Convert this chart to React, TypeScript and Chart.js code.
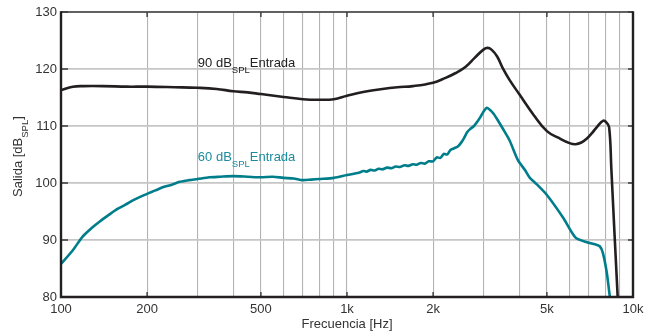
import React, { useEffect, useRef } from "react";
import { Chart, registerables } from "chart.js";

Chart.register(...registerables);

// ---- data ----
const freq90 = [100, 110, 120, 140, 170, 200, 250, 300, 350, 400, 450, 500, 600, 700, 800, 900, 1000, 1150, 1330, 1500, 1700, 2000, 2200, 2400, 2600, 2800, 3000, 3100, 3200, 3350, 3500, 3700, 4000, 4500, 5000, 5500, 6000, 6300, 6600, 6900, 7200, 7500, 7850, 8050, 8250, 8400, 8850, 9000];
const level90 = [116.3, 116.9, 117.0, 117.0, 116.9, 116.9, 116.8, 116.7, 116.5, 116.1, 115.9, 115.6, 115.1, 114.7, 114.6, 114.7, 115.3, 116.0, 116.5, 116.8, 117.0, 117.6, 118.4, 119.3, 120.4, 122.0, 123.4, 123.7, 123.4, 122.2, 120.2, 118.1, 115.6, 111.9, 109.1, 107.9, 107.0, 106.8, 107.1, 107.8, 108.8, 109.9, 110.9, 110.7, 109.8, 102.5, 79.5, 74];

const freq60 = [100, 110, 119, 128, 137, 147, 157, 168, 179, 190, 200, 214, 228, 244, 260, 280, 300, 330, 360, 400, 450, 500, 550, 600, 650, 700, 750, 800, 900, 1000, 1100, 1140, 1170, 1210, 1250, 1290, 1330, 1380, 1430, 1480, 1530, 1590, 1640, 1700, 1750, 1810, 1870, 1930, 2000, 2060, 2120, 2180, 2240, 2300, 2370, 2440, 2500, 2560, 2630, 2700, 2780, 2850, 2930, 3000, 3080, 3150, 3250, 3330, 3500, 3700, 3960, 4200, 4360, 4600, 5000, 5700, 6300, 6900, 7300, 7650, 7850, 8100, 8300, 8400];
const level60 = [85.8, 88.2, 90.6, 92.1, 93.3, 94.4, 95.4, 96.2, 97.0, 97.6, 98.1, 98.7, 99.3, 99.7, 100.2, 100.5, 100.7, 101.0, 101.1, 101.2, 101.1, 101.0, 101.1, 100.9, 100.8, 100.5, 100.6, 100.7, 100.9, 101.4, 101.8, 102.1, 102.0, 102.3, 102.2, 102.5, 102.4, 102.7, 102.6, 102.9, 102.8, 103.1, 103.0, 103.3, 103.2, 103.5, 103.4, 103.8, 103.8, 104.5, 104.4, 105.1, 105.0, 105.8, 106.1, 106.4, 107.0, 107.8, 108.9, 109.5, 110.0, 110.7, 111.6, 112.5, 113.2, 112.9, 112.2, 111.4, 109.6, 107.5, 104.0, 102.2, 100.9, 99.8, 97.9, 93.9, 90.4, 89.6, 89.3, 88.9, 87.7, 84.2, 80.0, 78.0];

const xTickValues = [100, 200, 300, 400, 500, 600, 700, 800, 900, 1000, 2000, 3000, 4000, 5000, 6000, 7000, 8000, 9000, 10000];
const xMajorValues = [100, 200, 500, 1000, 2000, 5000, 10000];
const xMajorLabels = ["100", "200", "500", "1k", "2k", "5k", "10k"];
const yTickValues = [80, 90, 100, 110, 120, 130];

const label90 = { x: 301, y: 120.35, parts: ["90 dB", "SPL", "Entrada"] };
const label60 = { x: 301, y: 103.9, parts: ["60 dB", "SPL", "Entrada"] };

const FONT = '"Liberation Sans", Arial, Helvetica, sans-serif';
const BLACK = "#231f20";
const TEAL = "#007d8b";
const TEAL_TEXT = "#1a8c9e";

function drawSubText(ctx: CanvasRenderingContext2D, x: number, y: number, parts: string[], color: string) {
  ctx.save();
  ctx.fillStyle = color;
  ctx.textBaseline = "alphabetic";
  ctx.textAlign = "left";
  let cx = x;
  parts.forEach((p, i) => {
    const sub = i % 2 === 1;
    ctx.font = (sub ? "9.5px " : "13px ") + FONT;
    ctx.fillText(p, cx, y + (sub ? 6 : 0));
    cx += ctx.measureText(p).width;
  });
  ctx.restore();
}

const framePlugin = {
  id: "framePlugin",
  afterDatasetsDraw(chart: any) {
    const ctx: CanvasRenderingContext2D = chart.ctx;
    const { left, right, top, bottom } = chart.chartArea;
    const xs = chart.scales.x;
    const ys = chart.scales.y;
    ctx.save();
    // inward ticks
    ctx.strokeStyle = "#3a3a3a";
    ctx.lineWidth = 1.4;
    const tl = 5;
    xMajorValues.forEach((v) => {
      const px = xs.getPixelForValue(v);
      ctx.beginPath();
      ctx.moveTo(px, bottom);
      ctx.lineTo(px, bottom - tl);
      ctx.moveTo(px, top);
      ctx.lineTo(px, top + tl);
      ctx.stroke();
    });
    yTickValues.forEach((v) => {
      const py = ys.getPixelForValue(v);
      ctx.beginPath();
      ctx.moveTo(left, py);
      ctx.lineTo(left + 7, py);
      ctx.moveTo(right, py);
      ctx.lineTo(right - tl, py);
      ctx.stroke();
    });
    // frame
    ctx.strokeStyle = "#3c3c3c";
    ctx.lineWidth = 1.4;
    ctx.beginPath();
    ctx.moveTo(left, top);
    ctx.lineTo(right, top);
    ctx.stroke();
    ctx.strokeStyle = BLACK;
    ctx.lineWidth = 2.4;
    ctx.beginPath();
    ctx.moveTo(left, top - 0.7);
    ctx.lineTo(left, bottom);
    ctx.lineTo(right, bottom);
    ctx.lineTo(right, top - 0.7);
    ctx.stroke();

    // annotations
    drawSubText(ctx, xs.getPixelForValue(label90.x), ys.getPixelForValue(label90.y), label90.parts, "#222");
    drawSubText(ctx, xs.getPixelForValue(label60.x), ys.getPixelForValue(label60.y), label60.parts, TEAL_TEXT);

    // y-axis title with subscript
    ctx.translate(22, 197);
    ctx.rotate(-Math.PI / 2);
    drawSubText(ctx, 0, 0, ["Salida [dB", "SPL", "]"], "#333");
    ctx.restore();
  },
};

export default function App() {
  const ref = useRef<HTMLCanvasElement>(null);
  useEffect(() => {
    if (!ref.current) return;
    Chart.defaults.font.family = FONT;
    const chart = new Chart(ref.current, {
      type: "line",
      data: {
        datasets: [
          {
            label: "90 dB SPL Entrada",
            data: freq90.map((f, i) => ({ x: f, y: level90[i] })),
            borderColor: BLACK,
            borderWidth: 2.6,
            pointRadius: 0,
            tension: 0.4,
            fill: false,
          },
          {
            label: "60 dB SPL Entrada",
            data: freq60.map((f, i) => ({ x: f, y: level60[i] })),
            borderColor: TEAL,
            borderWidth: 2.6,
            pointRadius: 0,
            tension: 0.25,
            fill: false,
          },
        ],
      },
      options: {
        animation: false,
        responsive: false,
        devicePixelRatio: 1,
        layout: { padding: { left: 0, right: 23, top: 12, bottom: 0 } },
        plugins: { legend: { display: false }, tooltip: { enabled: false } },
        scales: {
          x: {
            type: "logarithmic",
            min: 100,
            max: 10000,
            afterBuildTicks: (scale: any) => {
              scale.ticks = xTickValues.map((v) => ({ value: v }));
            },
            afterFit: (scale: any) => {
              scale.height = 39;
            },
            ticks: {
              autoSkip: false,
              maxRotation: 0,
              padding: 5,
              color: "#333",
              font: { size: 13, family: FONT },
              callback: (value: any) => {
                const idx = xMajorValues.indexOf(Number(value));
                return idx >= 0 ? xMajorLabels[idx] : "";
              },
            },
            grid: { color: "#b3b3b3", lineWidth: 1.1, drawTicks: false },
            border: { display: false },
            title: {
              display: true,
              text: "Frecuencia [Hz]",
              color: "#333",
              font: { size: 13, family: FONT },
              padding: { top: 0, bottom: 4 },
            },
          },
          y: {
            min: 80,
            max: 130,
            afterBuildTicks: (scale: any) => {
              scale.ticks = yTickValues.map((v) => ({ value: v }));
            },
            afterFit: (scale: any) => {
              scale.width = 61;
            },
            ticks: {
              padding: 4,
              color: "#333",
              font: { size: 13, family: FONT },
            },
            grid: { color: "#c6c6c6", lineWidth: 1.8, drawTicks: false },
            border: { display: false },
          },
        },
      },
      plugins: [framePlugin],
    } as any);
    return () => chart.destroy();
  }, []);
  return (
    <div style={{ position: "absolute", left: 0, top: 0, width: 656, height: 336, background: "#fff" }}>
      <canvas ref={ref} width={656} height={336} />
    </div>
  );
}
